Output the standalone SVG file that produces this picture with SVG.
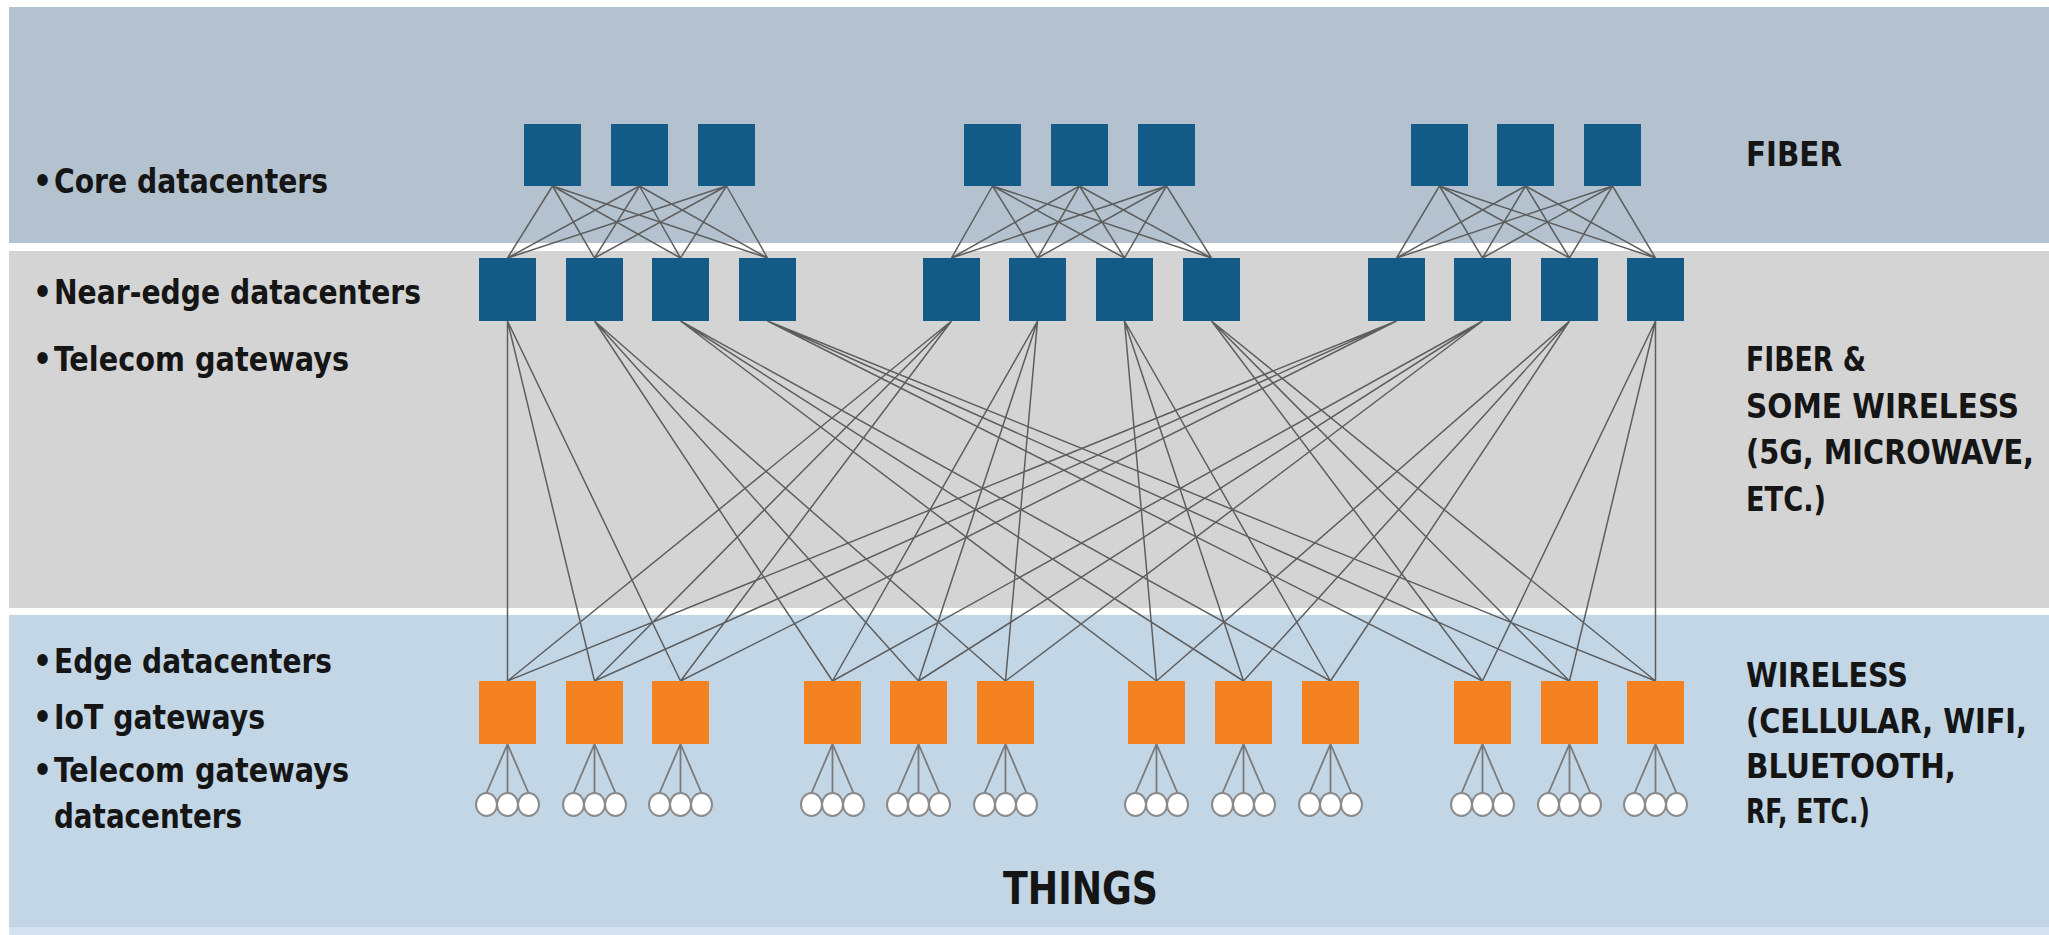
<svg xmlns="http://www.w3.org/2000/svg" width="2049" height="935" viewBox="0 0 2049 935">
<style>
.core,.near{fill:#145a87}
.iot{fill:#f58220}
.thing{fill:#ffffff;stroke:#8a8a8a;stroke-width:2}
.ln{fill:none;stroke:#5e5e5e;stroke-width:1.5}
.lt{fill:none;stroke:#7a7a7a;stroke-width:1.8}
text{font-family:"DejaVu Sans Condensed","DejaVu Sans","Liberation Sans",sans-serif;font-stretch:condensed;font-weight:bold;fill:#151515;font-size:33px}
.big{font-size:44px}
</style>
<rect x="0" y="0" width="2049" height="935" fill="#ffffff"/>
<g id="bands">
<rect x="9" y="7" width="2040" height="236" fill="#b3c2ce"/>
<rect x="9" y="251" width="2040" height="357" fill="#d4d4d4"/>
<rect x="9" y="615" width="2040" height="312" fill="#c3d6e6"/>
<rect x="9" y="927" width="2040" height="8" fill="#d3e2ee"/>
</g>
<g id="connectors">
<path class="ln" d="M552.5 186L507.5 258M552.5 186L594.5 258M552.5 186L680.5 258M552.5 186L767.5 258M639.5 186L507.5 258M639.5 186L594.5 258M639.5 186L680.5 258M639.5 186L767.5 258M726.5 186L507.5 258M726.5 186L594.5 258M726.5 186L680.5 258M726.5 186L767.5 258"/>
<path class="ln" d="M992.5 186L951.5 258M992.5 186L1037.5 258M992.5 186L1124.5 258M992.5 186L1211.5 258M1079.5 186L951.5 258M1079.5 186L1037.5 258M1079.5 186L1124.5 258M1079.5 186L1211.5 258M1166.5 186L951.5 258M1166.5 186L1037.5 258M1166.5 186L1124.5 258M1166.5 186L1211.5 258"/>
<path class="ln" d="M1439.5 186L1396.5 258M1439.5 186L1482.5 258M1439.5 186L1569.5 258M1439.5 186L1655.5 258M1525.5 186L1396.5 258M1525.5 186L1482.5 258M1525.5 186L1569.5 258M1525.5 186L1655.5 258M1612.5 186L1396.5 258M1612.5 186L1482.5 258M1612.5 186L1569.5 258M1612.5 186L1655.5 258"/>
<path class="ln" d="M507.5 321L507.5 681M507.5 321L594.5 681M507.5 321L680.5 681M951.5 321L507.5 681M951.5 321L594.5 681M951.5 321L680.5 681M1396.5 321L507.5 681M1396.5 321L594.5 681M1396.5 321L680.5 681"/>
<path class="ln" d="M594.5 321L832.5 681M594.5 321L918.5 681M594.5 321L1005.5 681M1037.5 321L832.5 681M1037.5 321L918.5 681M1037.5 321L1005.5 681M1482.5 321L832.5 681M1482.5 321L918.5 681M1482.5 321L1005.5 681"/>
<path class="ln" d="M680.5 321L1156.5 681M680.5 321L1243.5 681M680.5 321L1330.5 681M1124.5 321L1156.5 681M1124.5 321L1243.5 681M1124.5 321L1330.5 681M1569.5 321L1156.5 681M1569.5 321L1243.5 681M1569.5 321L1330.5 681"/>
<path class="ln" d="M767.5 321L1482.5 681M767.5 321L1569.5 681M767.5 321L1655.5 681M1211.5 321L1482.5 681M1211.5 321L1569.5 681M1211.5 321L1655.5 681M1655.5 321L1482.5 681M1655.5 321L1569.5 681M1655.5 321L1655.5 681"/>
<path class="lt" d="M507.5 744L486.5 793M507.5 744L507.5 793M507.5 744L528.5 793M594.5 744L573.5 793M594.5 744L594.5 793M594.5 744L615.5 793M680.5 744L659.5 793M680.5 744L680.5 793M680.5 744L701.5 793M832.5 744L811.5 793M832.5 744L832.5 793M832.5 744L853.5 793M918.5 744L897.5 793M918.5 744L918.5 793M918.5 744L939.5 793M1005.5 744L984.5 793M1005.5 744L1005.5 793M1005.5 744L1026.5 793M1156.5 744L1135.5 793M1156.5 744L1156.5 793M1156.5 744L1177.5 793M1243.5 744L1222.5 793M1243.5 744L1243.5 793M1243.5 744L1264.5 793M1330.5 744L1309.5 793M1330.5 744L1330.5 793M1330.5 744L1351.5 793M1482.5 744L1461.5 793M1482.5 744L1482.5 793M1482.5 744L1503.5 793M1569.5 744L1548.5 793M1569.5 744L1569.5 793M1569.5 744L1590.5 793M1655.5 744L1634.5 793M1655.5 744L1655.5 793M1655.5 744L1676.5 793"/>
</g>
<g id="core">
<rect id="core1" class="core" x="524" y="124" width="57" height="62"/>
<rect id="core2" class="core" x="611" y="124" width="57" height="62"/>
<rect id="core3" class="core" x="698" y="124" width="57" height="62"/>
<rect id="core4" class="core" x="964" y="124" width="57" height="62"/>
<rect id="core5" class="core" x="1051" y="124" width="57" height="62"/>
<rect id="core6" class="core" x="1138" y="124" width="57" height="62"/>
<rect id="core7" class="core" x="1411" y="124" width="57" height="62"/>
<rect id="core8" class="core" x="1497" y="124" width="57" height="62"/>
<rect id="core9" class="core" x="1584" y="124" width="57" height="62"/>
</g>
<g id="near-edge">
<rect id="near1" class="near" x="479" y="258" width="57" height="63"/>
<rect id="near2" class="near" x="566" y="258" width="57" height="63"/>
<rect id="near3" class="near" x="652" y="258" width="57" height="63"/>
<rect id="near4" class="near" x="739" y="258" width="57" height="63"/>
<rect id="near5" class="near" x="923" y="258" width="57" height="63"/>
<rect id="near6" class="near" x="1009" y="258" width="57" height="63"/>
<rect id="near7" class="near" x="1096" y="258" width="57" height="63"/>
<rect id="near8" class="near" x="1183" y="258" width="57" height="63"/>
<rect id="near9" class="near" x="1368" y="258" width="57" height="63"/>
<rect id="near10" class="near" x="1454" y="258" width="57" height="63"/>
<rect id="near11" class="near" x="1541" y="258" width="57" height="63"/>
<rect id="near12" class="near" x="1627" y="258" width="57" height="63"/>
</g>
<g id="edge">
<rect id="edge1" class="iot" x="479" y="681" width="57" height="63"/>
<rect id="edge2" class="iot" x="566" y="681" width="57" height="63"/>
<rect id="edge3" class="iot" x="652" y="681" width="57" height="63"/>
<rect id="edge4" class="iot" x="804" y="681" width="57" height="63"/>
<rect id="edge5" class="iot" x="890" y="681" width="57" height="63"/>
<rect id="edge6" class="iot" x="977" y="681" width="57" height="63"/>
<rect id="edge7" class="iot" x="1128" y="681" width="57" height="63"/>
<rect id="edge8" class="iot" x="1215" y="681" width="57" height="63"/>
<rect id="edge9" class="iot" x="1302" y="681" width="57" height="63"/>
<rect id="edge10" class="iot" x="1454" y="681" width="57" height="63"/>
<rect id="edge11" class="iot" x="1541" y="681" width="57" height="63"/>
<rect id="edge12" class="iot" x="1627" y="681" width="57" height="63"/>
</g>
<g id="things">
<ellipse class="thing" cx="486.5" cy="804.5" rx="10.5" ry="11.5"/><ellipse class="thing" cx="528.5" cy="804.5" rx="10.5" ry="11.5"/><ellipse class="thing" cx="507.5" cy="804.5" rx="10.5" ry="11.5"/>
<ellipse class="thing" cx="573.5" cy="804.5" rx="10.5" ry="11.5"/><ellipse class="thing" cx="615.5" cy="804.5" rx="10.5" ry="11.5"/><ellipse class="thing" cx="594.5" cy="804.5" rx="10.5" ry="11.5"/>
<ellipse class="thing" cx="659.5" cy="804.5" rx="10.5" ry="11.5"/><ellipse class="thing" cx="701.5" cy="804.5" rx="10.5" ry="11.5"/><ellipse class="thing" cx="680.5" cy="804.5" rx="10.5" ry="11.5"/>
<ellipse class="thing" cx="811.5" cy="804.5" rx="10.5" ry="11.5"/><ellipse class="thing" cx="853.5" cy="804.5" rx="10.5" ry="11.5"/><ellipse class="thing" cx="832.5" cy="804.5" rx="10.5" ry="11.5"/>
<ellipse class="thing" cx="897.5" cy="804.5" rx="10.5" ry="11.5"/><ellipse class="thing" cx="939.5" cy="804.5" rx="10.5" ry="11.5"/><ellipse class="thing" cx="918.5" cy="804.5" rx="10.5" ry="11.5"/>
<ellipse class="thing" cx="984.5" cy="804.5" rx="10.5" ry="11.5"/><ellipse class="thing" cx="1026.5" cy="804.5" rx="10.5" ry="11.5"/><ellipse class="thing" cx="1005.5" cy="804.5" rx="10.5" ry="11.5"/>
<ellipse class="thing" cx="1135.5" cy="804.5" rx="10.5" ry="11.5"/><ellipse class="thing" cx="1177.5" cy="804.5" rx="10.5" ry="11.5"/><ellipse class="thing" cx="1156.5" cy="804.5" rx="10.5" ry="11.5"/>
<ellipse class="thing" cx="1222.5" cy="804.5" rx="10.5" ry="11.5"/><ellipse class="thing" cx="1264.5" cy="804.5" rx="10.5" ry="11.5"/><ellipse class="thing" cx="1243.5" cy="804.5" rx="10.5" ry="11.5"/>
<ellipse class="thing" cx="1309.5" cy="804.5" rx="10.5" ry="11.5"/><ellipse class="thing" cx="1351.5" cy="804.5" rx="10.5" ry="11.5"/><ellipse class="thing" cx="1330.5" cy="804.5" rx="10.5" ry="11.5"/>
<ellipse class="thing" cx="1461.5" cy="804.5" rx="10.5" ry="11.5"/><ellipse class="thing" cx="1503.5" cy="804.5" rx="10.5" ry="11.5"/><ellipse class="thing" cx="1482.5" cy="804.5" rx="10.5" ry="11.5"/>
<ellipse class="thing" cx="1548.5" cy="804.5" rx="10.5" ry="11.5"/><ellipse class="thing" cx="1590.5" cy="804.5" rx="10.5" ry="11.5"/><ellipse class="thing" cx="1569.5" cy="804.5" rx="10.5" ry="11.5"/>
<ellipse class="thing" cx="1634.5" cy="804.5" rx="10.5" ry="11.5"/><ellipse class="thing" cx="1676.5" cy="804.5" rx="10.5" ry="11.5"/><ellipse class="thing" cx="1655.5" cy="804.5" rx="10.5" ry="11.5"/>
</g>
<g id="left-labels">
<text x="33" y="193">•</text><text x="54" y="193" textLength="274" lengthAdjust="spacingAndGlyphs">Core datacenters</text>
<text x="33" y="304">•</text><text x="54" y="304" textLength="367" lengthAdjust="spacingAndGlyphs">Near-edge datacenters</text>
<text x="33" y="371">•</text><text x="54" y="371" textLength="295" lengthAdjust="spacingAndGlyphs">Telecom gateways</text>
<text x="33" y="673">•</text><text x="54" y="673" textLength="278" lengthAdjust="spacingAndGlyphs">Edge datacenters</text>
<text x="33" y="729">•</text><text x="54" y="729" textLength="211" lengthAdjust="spacingAndGlyphs">IoT gateways</text>
<text x="33" y="782">•</text><text x="54" y="782" textLength="295" lengthAdjust="spacingAndGlyphs">Telecom gateways</text>
<text x="54" y="828" textLength="188" lengthAdjust="spacingAndGlyphs">datacenters</text>
</g>
<g id="right-labels">
<text x="1746" y="166" textLength="96" lengthAdjust="spacingAndGlyphs">FIBER</text>
<text x="1746" y="371" textLength="120" lengthAdjust="spacingAndGlyphs">FIBER &amp;</text>
<text x="1746" y="418" textLength="273" lengthAdjust="spacingAndGlyphs">SOME WIRELESS</text>
<text x="1746" y="464" textLength="288" lengthAdjust="spacingAndGlyphs">(5G, MICROWAVE,</text>
<text x="1746" y="511" textLength="80" lengthAdjust="spacingAndGlyphs">ETC.)</text>
<text x="1746" y="687" textLength="162" lengthAdjust="spacingAndGlyphs">WIRELESS</text>
<text x="1746" y="733" textLength="281" lengthAdjust="spacingAndGlyphs">(CELLULAR, WIFI,</text>
<text x="1746" y="778" textLength="210" lengthAdjust="spacingAndGlyphs">BLUETOOTH,</text>
<text x="1746" y="823" textLength="124" lengthAdjust="spacingAndGlyphs">RF, ETC.)</text>
<text class="big" x="1003" y="904" textLength="155" lengthAdjust="spacingAndGlyphs">THINGS</text>
</g>
</svg>
